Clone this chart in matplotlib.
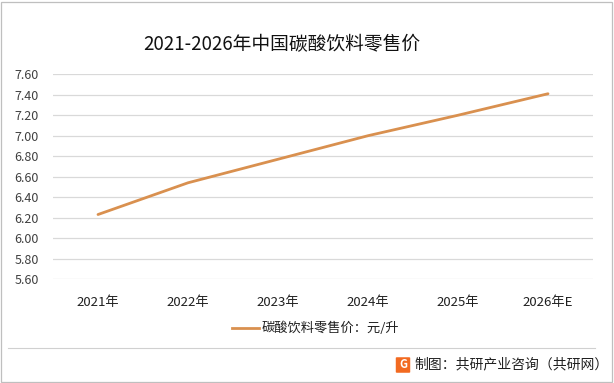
import matplotlib.pyplot as plt
from matplotlib.patches import FancyBboxPatch, Rectangle
from matplotlib.lines import Line2D

plt.rcParams['font.family'] = ['Noto Sans CJK SC', 'DejaVu Sans']

# data
years = ['2021年', '2022年', '2023年', '2024年', '2025年', '2026年E']
price = [6.23, 6.54, 6.77, 7.00, 7.20, 7.41]
yticks = [5.6, 5.8, 6.0, 6.2, 6.4, 6.6, 6.8, 7.0, 7.2, 7.4, 7.6]

W, H = 614, 383
fig = plt.figure(figsize=(W / 100, H / 100), dpi=100)
fig.patch.set_facecolor('white')

# plot area
ax = fig.add_axes([53 / W, 1 - 279 / H, 540 / W, (279 - 74.3) / H])
x = list(range(len(years)))
ax.plot(x, price, color='#D9904F', lw=2.0, solid_capstyle='round', zorder=3)
ax.set_xlim(-0.5, len(years) - 0.5)
ax.set_ylim(5.6, 7.6)
ax.set_yticks(yticks)
ax.set_yticklabels([f'{v:.2f}' for v in yticks], fontsize=9, color='#404040')
ax.set_xticks(x)
ax.set_xticklabels(years, fontsize=9.5, color='#202020')
ax.tick_params(length=0)
ax.tick_params(axis='x', pad=12)
ax.tick_params(axis='y', pad=10)
ax.yaxis.grid(True, color='#d9d9d9', lw=0.9)
ax.set_axisbelow(True)
for s in ax.spines.values():
    s.set_visible(False)

# title
fig.text(143 / W, 1 - 45 / H, '2021-2026年中国碳酸饮料零售价', fontsize=13.5,
         color='#111111', va='center', ha='left')

# legend
fig.add_artist(Line2D([232 / W, 259 / W], [1 - 328 / H, 1 - 328 / H],
                      color='#D9904F', lw=2.0))
fig.text(262 / W, 1 - 328 / H, '碳酸饮料零售价：元/升', fontsize=9.5,
         color='#202020', va='center', ha='left')

# separator and footer
fig.add_artist(Line2D([8 / W, 595 / W], [1 - 348 / H, 1 - 348 / H],
                      color='#d0d0d0', lw=0.8))
fig.add_artist(FancyBboxPatch((397 / W, 1 - 372 / H), 12 / W, 14 / H,
                              boxstyle='round,pad=0.002', fc='#F26A21',
                              ec='none', transform=fig.transFigure))
fig.text(403 / W, 1 - 365 / H, 'G', fontsize=8, fontweight='bold',
         color='white', ha='center', va='center')
fig.text(414 / W, 1 - 364 / H, '制图：共研产业咨询（共研网）', fontsize=10,
         color='#202020', va='center', ha='left')

# outer border
fig.add_artist(Rectangle((1 / W, 1 / H), (W - 3) / W, (H - 3) / H,
                         transform=fig.transFigure, fill=False,
                         ec='#bfbfbf', lw=0.9))

fig.savefig('out.png', dpi=100)
